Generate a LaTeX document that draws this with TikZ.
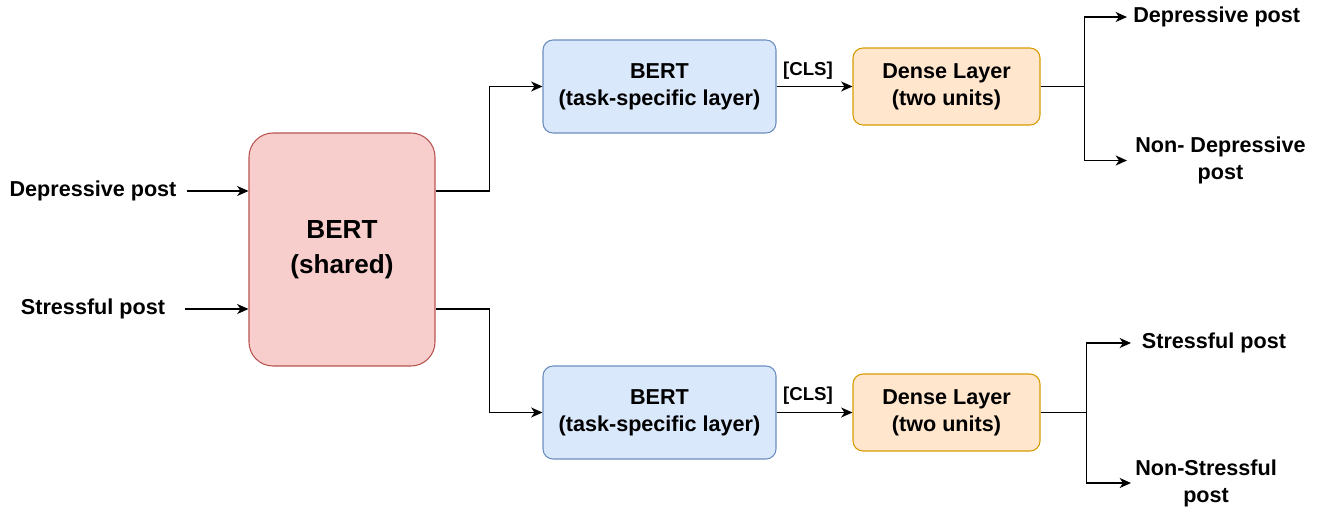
\documentclass[tikz,border=0pt]{standalone}
\usepackage{fontspec}
\setmainfont{Liberation Sans}
\usetikzlibrary{arrows.meta}
\definecolor{redfill}{HTML}{F8CECC}
\definecolor{reddraw}{HTML}{B85450}
\definecolor{bluefill}{HTML}{DAE8FC}
\definecolor{bluedraw}{HTML}{6C8EBF}
\definecolor{orfill}{HTML}{FFE6CC}
\definecolor{ordraw}{HTML}{D79B00}
\begin{document}
\begin{tikzpicture}[x=0.75pt,y=-0.75pt,
  box/.style={draw, line width=0.8pt, align=center, inner sep=0pt,
    font=\bfseries\fontsize{16.2}{20.25}\selectfont},
  sharedbox/.style={box, fill=redfill, draw=reddraw, rounded corners=18pt,
    minimum width=139.5pt, minimum height=174.75pt,
    font=\bfseries\fontsize{19.6}{26}\selectfont},
  bertbox/.style={box, fill=bluefill, draw=bluedraw, rounded corners=7.5pt,
    minimum width=174.75pt, minimum height=69.75pt},
  densebox/.style={box, fill=orfill, draw=ordraw, rounded corners=7.5pt,
    minimum width=140.25pt, minimum height=57.75pt},
  lbl/.style={align=center, inner sep=0pt, font=\bfseries\fontsize{16.2}{20.25}\selectfont},
  cls/.style={inner sep=0pt, font=\bfseries\fontsize{14}{16}\selectfont},
  line/.style={line width=1.1pt, draw=black},
  conn/.style={line, -{Stealth[length=8.5pt, width=7.5pt, inset=2.5pt]}}
]
\useasboundingbox (0,0) rectangle (1320,511);

% main boxes
\node[sharedbox] (shared) at (342,249.5) {BERT\\(shared)};
\node[bertbox] (bt) at (659.5,86.5) {BERT\\(task-specific layer)};
\node[bertbox] (bb) at (659.5,412.5) {BERT\\(task-specific layer)};
\node[densebox] (dt) at (946.5,86.5) {Dense Layer\\(two units)};
\node[densebox] (db) at (946.5,412.5) {Dense Layer\\(two units)};

% inputs
\node[lbl, inner xsep=7.5pt] (inD) at (93,191) {Depressive post};
\node[lbl, inner xsep=15pt] (inS) at (93,309) {Stressful post};

% outputs
\node[lbl, anchor=west, inner xsep=4.5pt] (o1) at (1127,17) {Depressive post};
\node[lbl, anchor=west, inner xsep=6pt] (o2) at (1127,160.5) {Non- Depressive\\post};
\node[lbl, anchor=west, inner xsep=8pt] (o3) at (1131,343) {Stressful post};
\node[lbl, anchor=west, inner xsep=3pt] (o4) at (1131,483) {Non-Stressful\\post};

% CLS labels
\node[cls] (c1) at (808,71) {[CLS]};
\node[cls] (c2) at (808,396) {[CLS]};

% connectors
\draw[conn] (inD.east) -- (shared.west |- inD.east);
\draw[conn] (inS.east) -- (shared.west |- inS.east);

\draw[conn] (shared.east |- inD.east) -- ++(54,0) |- (bt.west);
\draw[conn] (shared.east |- inS.east) -- ++(54,0) |- (bb.west);

\draw[conn] (bt.east) -- (dt.west);
\draw[conn] (bb.east) -- (db.west);

\draw[line] (dt.east) -- ++(44,0) coordinate (jt);
\draw[conn] (jt) |- (o1.west);
\draw[conn] (jt) |- (o2.west);

\draw[line] (db.east) -- ++(46,0) coordinate (jb);
\draw[conn] (jb) |- (o3.west);
\draw[conn] (jb) |- (o4.west);
\end{tikzpicture}
\end{document}
